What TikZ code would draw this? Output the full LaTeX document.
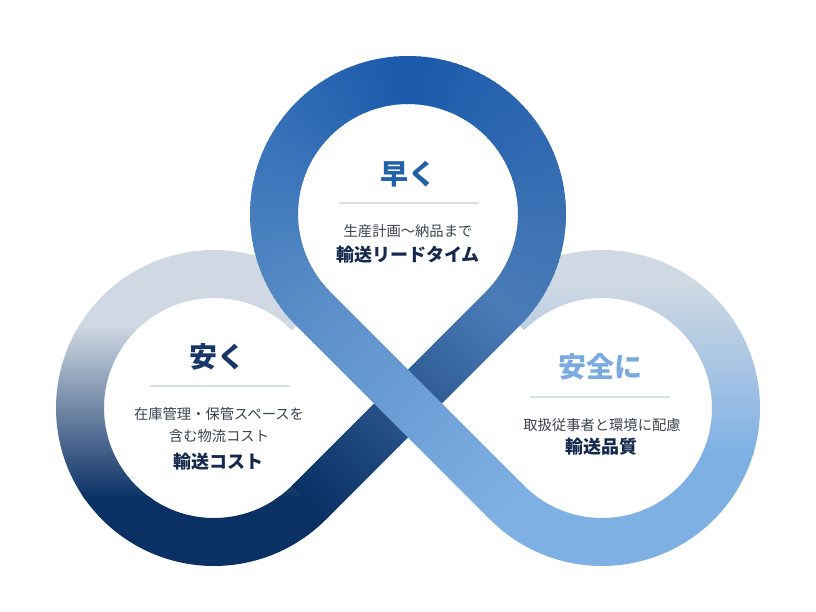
\documentclass[tikz,border=0pt]{standalone}
\usepackage{fontspec}
\newfontfamily\jp{Noto Sans CJK JP}
\usetikzlibrary{calc}
\definecolor{navyb}{HTML}{0A3064}
\definecolor{grayb}{HTML}{D0D9E3}
\definecolor{midr}{HTML}{4B7CB8}
\definecolor{topb}{HTML}{1A5AAB}
\definecolor{midl}{HTML}{5B8EC8}
\definecolor{lightb}{HTML}{7EB0E4}
\definecolor{subtxt}{HTML}{3C4350}
\definecolor{boldtxt}{HTML}{15294F}
\definecolor{ttop}{HTML}{2360AA}
\definecolor{tleft}{HTML}{183768}
\definecolor{tright}{HTML}{7AAAE0}
\definecolor{sepc}{HTML}{D6DFE9}
% annular sector path (for clipping)
\newcommand\sectorpath[3]{%
  ($(#1)+(#2:110)$) arc[start angle=#2,end angle=#3,radius=110]
    -- ($(#1)+(#3:158)$) arc[start angle=#3,end angle=#2,radius=158] -- cycle}
% annular sector with colour gradient along the arc
\newcommand\ringgrad[6]{%
  \foreach \k in {1,...,#4}{%
    \pgfmathsetmacro\rgA{(#2)+((#3)-(#2))*(\k-1)/(#4)}%
    \pgfmathsetmacro\rgB{(#2)+((#3)-(#2))*(\k+0.3)/(#4)}%
    \pgfmathsetmacro\rgP{100*(\k-0.5)/(#4)}%
    \fill[fill=#6!\rgP!#5] ($(#1)+(\rgA:110)$) arc[start angle=\rgA,end angle=\rgB,radius=110]
      -- ($(#1)+(\rgB:158)$) arc[start angle=\rgB,end angle=\rgA,radius=158] -- cycle;
  }}
% straight band with colour gradient along its length
\newcommand\bandgrad[7]{%
  \foreach \k in {1,...,#5}{%
    \pgfmathsetmacro\bgA{(\k-1)/(#5)}%
    \pgfmathsetmacro\bgB{(\k+0.4)/(#5)}%
    \pgfmathsetmacro\bgP{100*(\k-0.5)/(#5)}%
    \fill[fill=#7!\bgP!#6] ($(#1)!\bgA!(#3)$) -- ($(#2)!\bgA!(#4)$)
      -- ($(#2)!\bgB!(#4)$) -- ($(#1)!\bgB!(#3)$) -- cycle;
  }}
\tikzset{
  subtext/.style={font=\jp\fontsize{14.3}{16}\selectfont, text=subtxt, inner sep=0pt},
  boldtext/.style={font=\jp\bfseries\fontsize{18}{20}\selectfont, text=boldtxt, inner sep=0pt},
  titletext/.style={font=\jp\bfseries\fontsize{28}{30}\selectfont, inner sep=0pt},
  sepline/.style={draw=sepc, line width=2pt},
}
\begin{document}
\begin{tikzpicture}[x=1pt,y=-1pt]
\useasboundingbox (0,0) rectangle (816,612);
\fill[white] (0,0) rectangle (816,612);
\coordinate (T) at (408,214);
\coordinate (L) at (214,408);
\coordinate (R) at (602,408);
% right ring: vertical gradient, grey at top, light blue at bottom
\begin{scope}
  \clip \sectorpath{R}{137}{-135};
  \fill[grayb] (430,230) rectangle (780,285);
  \shade[top color=grayb, bottom color=lightb] (430,282) rectangle (780,454);
  \fill[lightb] (430,451) rectangle (780,580);
\end{scope}
% left ring: vertical gradient, grey at top, navy at bottom
\begin{scope}
  \clip \sectorpath{L}{43}{315};
  \fill[grayb] (40,230) rectangle (400,328);
  \shade[top color=grayb, bottom color=navyb] (40,325) rectangle (400,499);
  \fill[navyb] (40,496) rectangle (400,580);
\end{scope}
% dark diagonal band
\coordinate (Di1) at ($(L)+(45:110)$);
\coordinate (Do1) at ($(L)+(45:158)$);
\coordinate (Di2) at ($(T)+(45:110)$);
\coordinate (Do2) at ($(T)+(45:158)$);
\bandgrad{Di1}{Do1}{Di2}{Do2}{100}{navyb}{midr}
% top ring
\ringgrad{T}{45}{-90}{60}{midr}{topb}
\ringgrad{T}{-90}{-225}{60}{topb}{midl}
% light diagonal band
\coordinate (Li1) at ($(T)+(135:110)$);
\coordinate (Lo1) at ($(T)+(135:158)$);
\coordinate (Li2) at ($(R)+(135:110)$);
\coordinate (Lo2) at ($(R)+(135:158)$);
\bandgrad{Li1}{Lo1}{Li2}{Lo2}{100}{midl}{lightb}
% texts: top
\node[titletext, text=ttop] (t1) at (408,174) {早く};
\draw[sepline] (339,203) -- (479,203);
\node[subtext] (s1) at (408,231) {生産計画～納品まで};
\node[boldtext] (b1) at (408,255) {輸送リードタイム};
% texts: left
\node[titletext, text=tleft] (t2) at (217,357) {安く};
\draw[sepline] (150,386) -- (290,386);
\node[subtext] (s2a) at (219,414) {在庫管理・保管スペースを};
\node[subtext] (s2b) at (219,436) {含む物流コスト};
\node[boldtext] (b2) at (218,462) {輸送コスト};
% texts: right
\node[titletext, text=tright] (t3) at (600,367) {安全に};
\draw[sepline] (530,397) -- (670,397);
\node[subtext] (s3) at (602,425) {取扱従事者と環境に配慮};
\node[boldtext] (b3) at (601,447) {輸送品質};
\end{tikzpicture}
\end{document}
